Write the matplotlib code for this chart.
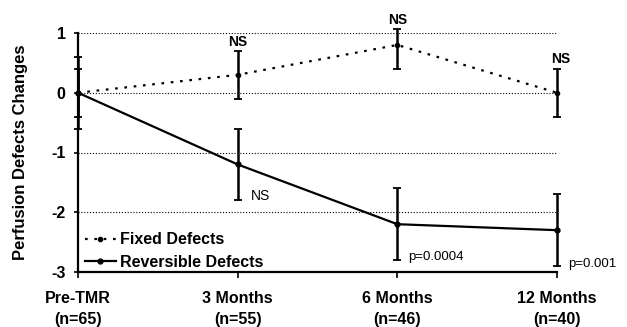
import matplotlib.pyplot as plt

plt.rcParams['font.family'] = ['Liberation Sans', 'DejaVu Sans']

# categories and values
categories = ["Pre-TMR\n(n=65)", "3 Months\n(n=55)", "6 Months\n(n=46)", "12 Months\n(n=40)"]
fixed = [0.0, 0.3, 0.8, 0.0]
fixed_err_low = [0.4, 0.4, 0.4, 0.4]
fixed_err_high = [0.4, 0.4, 0.27, 0.4]
reversible = [0.0, -1.2, -2.2, -2.3]
reversible_err = [0.6, 0.6, 0.6, 0.6]
y_ticks = [1, 0, -1, -2, -3]

x = list(range(len(categories)))

fig = plt.figure(figsize=(6.27, 3.27), dpi=100)
ax = fig.add_axes([78/627, 55/327, (557-78)/627, (272-33)/327])

# grid lines
for yv in [1, 0, -1, -2]:
    ax.axhline(yv, color="black", lw=0.8, ls=(0, (1, 1.6)), zorder=0)

ax.errorbar(x, fixed, yerr=[fixed_err_low, fixed_err_high], color="black", lw=1.6,
            ls=(0, (1.2, 3)), marker="o", ms=3, capsize=3, elinewidth=1.8, capthick=1.3,
            label="Fixed Defects", clip_on=False)
ax.errorbar(x, reversible, yerr=reversible_err, color="black", lw=1.6,
            ls="-", marker="o", ms=3.5, capsize=3, elinewidth=1.8, capthick=1.3,
            label="Reversible Defects", clip_on=False)

# significance labels
ax.text(1, 0.74, "NS", ha="center", va="bottom", fontsize=10, fontweight="bold")
ax.text(2, 1.1, "NS", ha="center", va="bottom", fontsize=10, fontweight="bold")
ax.text(3.02, 0.44, "NS", ha="center", va="bottom", fontsize=10, fontweight="bold")
ax.text(1.08, -1.72, "NS", ha="left", va="center", fontsize=10)
ax.text(2.07, -2.75, "p=0.0004", ha="left", va="center", fontsize=9.5)
ax.text(3.07, -2.87, "p=0.001", ha="left", va="center", fontsize=9.5)

ax.set_xlim(0, 3)
ax.set_ylim(-3, 1)
ax.set_yticks(y_ticks)
ax.set_yticklabels([str(v) for v in y_ticks], fontsize=11.5, fontweight="bold")
ax.set_xticks(x)
ax.set_xticklabels(categories, fontsize=11.5, fontweight="bold", linespacing=1.45)
ax.tick_params(axis="x", length=4, width=1.2, pad=10)
ax.tick_params(axis="y", length=3, width=1.2, pad=6)

ax.spines["top"].set_visible(False)
ax.spines["right"].set_visible(False)
ax.spines["left"].set_linewidth(1.6)
ax.spines["bottom"].set_linewidth(1.6)

ax.set_ylabel("Perfusion Defects Changes", fontsize=12, fontweight="bold", labelpad=17)

handles, labels = ax.get_legend_handles_labels()
handles = [h[0] for h in handles]
ax.legend(handles, labels, loc="lower left", bbox_to_anchor=(0.0, -0.02), frameon=False,
          handlelength=1.9, handletextpad=0.3, borderaxespad=0.05, labelspacing=0.45,
          prop={"weight": "bold", "size": 11.5})

fig.savefig("out.png", dpi=100)
